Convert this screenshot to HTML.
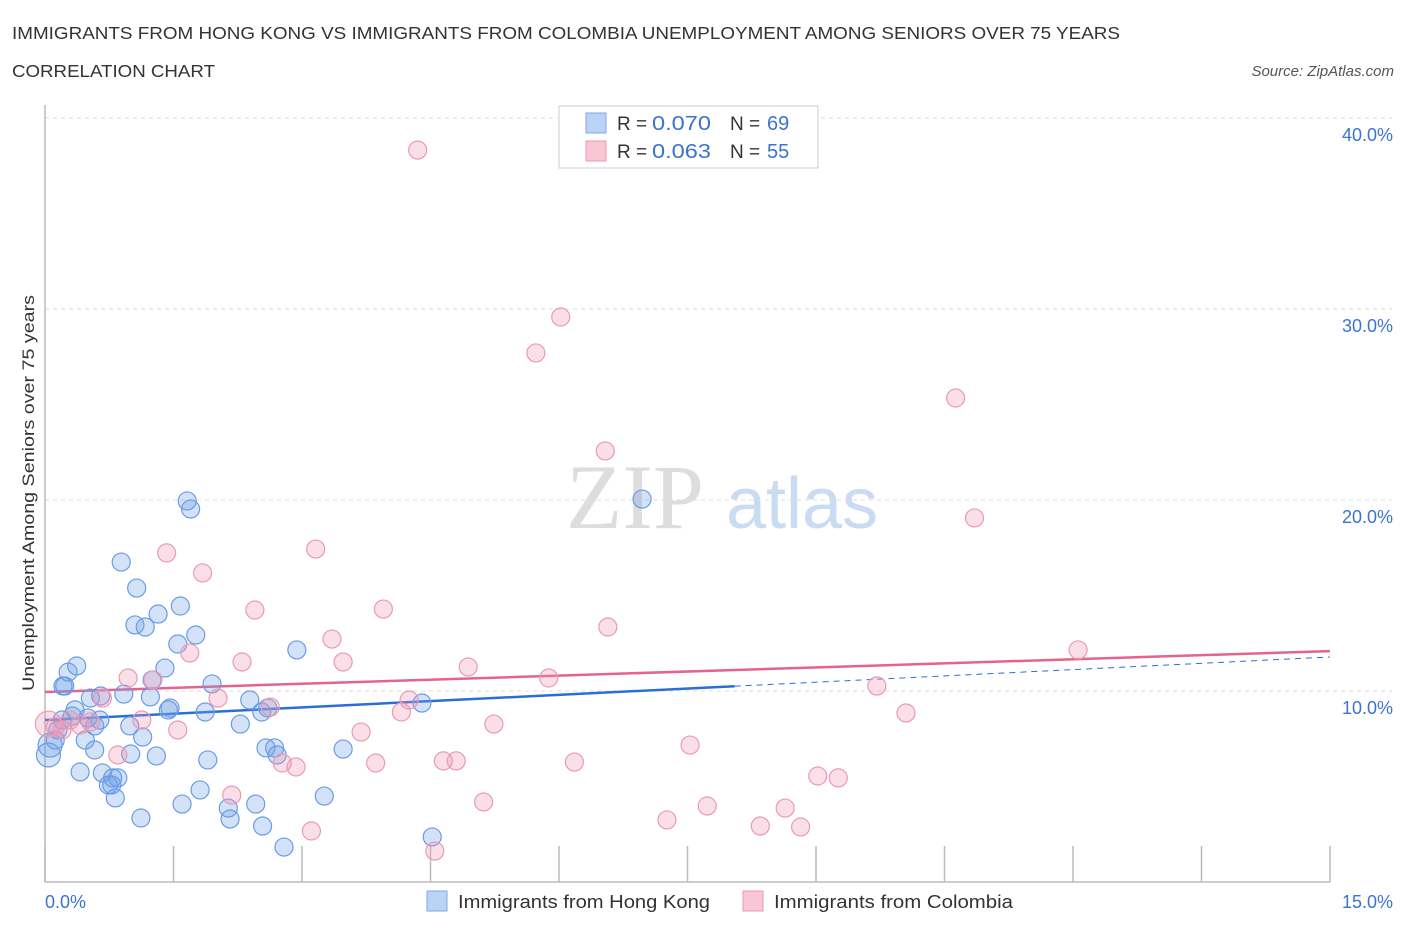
<!DOCTYPE html>
<html><head><meta charset="utf-8">
<style>
body{margin:0;background:#fff;font-family:"Liberation Sans",sans-serif;}
#wrap{position:relative;width:1406px;height:930px;overflow:hidden;}
</style></head>
<body>
<div id="wrap">
<svg id="chart" width="1406" height="930" xmlns="http://www.w3.org/2000/svg">
<text x="12" y="39" font-size="17.5" fill="#333" textLength="1108" lengthAdjust="spacingAndGlyphs">IMMIGRANTS FROM HONG KONG VS IMMIGRANTS FROM COLOMBIA UNEMPLOYMENT AMONG SENIORS OVER 75 YEARS</text>
<text x="12" y="77" font-size="17.5" fill="#333" textLength="203" lengthAdjust="spacingAndGlyphs">CORRELATION CHART</text>
<text x="1394" y="76" font-size="15" fill="#555" font-style="italic" text-anchor="end">Source: ZipAtlas.com</text>
<g>
<text x="635" y="528" font-size="92" fill="#ddd" font-family="Liberation Serif,serif" text-anchor="middle">ZIP</text>
<text x="802" y="528" font-size="72" fill="#c9dcf2" text-anchor="middle">atlas</text>
</g>
<g id="grid"></g>
<g id="axes"></g>
<g id="lines"></g>
<g id="points"></g>
<text transform="translate(34,493) rotate(-90)" font-size="17" fill="#333" text-anchor="middle" textLength="396" lengthAdjust="spacingAndGlyphs">Unemployment Among Seniors over 75 years</text>
<g>
<rect x="559" y="106" width="259" height="62" fill="#fff" stroke="#ccc"/>
<rect x="586" y="113" width="20" height="20" fill="#b9d3f5" stroke="#7fa9e6"/>
<rect x="586" y="141" width="20" height="20" fill="#f8c6d4" stroke="#eb9ab2"/>
<text x="617" y="130" font-size="19" fill="#333">R =</text>
<text x="652" y="130" font-size="20" fill="#3a74d0" textLength="59" lengthAdjust="spacingAndGlyphs">0.070</text>
<text x="730" y="130" font-size="19" fill="#333">N =</text>
<text x="767" y="130" font-size="20" fill="#3a74d0">69</text>
<text x="617" y="158" font-size="19" fill="#333">R =</text>
<text x="652" y="158" font-size="20" fill="#3a74d0" textLength="59" lengthAdjust="spacingAndGlyphs">0.063</text>
<text x="730" y="158" font-size="19" fill="#333">N =</text>
<text x="767" y="158" font-size="20" fill="#3a74d0">55</text>
</g>
<g>
<rect x="427" y="891" width="20" height="20" fill="#b9d3f5" stroke="#7fa9e6"/>
<text x="458" y="908" font-size="18" fill="#333" textLength="252" lengthAdjust="spacingAndGlyphs">Immigrants from Hong Kong</text>
<rect x="743" y="891" width="20" height="20" fill="#f8c6d4" stroke="#eb9ab2"/>
<text x="774" y="908" font-size="18" fill="#333" textLength="239" lengthAdjust="spacingAndGlyphs">Immigrants from Colombia</text>
</g>
</svg>
</div>
<script>
const xTickValues=[0,1.5,3,4.5,6,7.5,9,10.5,12,13.5,15];
const yTickValues=[10,20,30,40];
const yTickLabels=["10.0%","20.0%","30.0%","40.0%"];
const xEndLabels=["0.0%","15.0%"];
const hkX=[0.04,0.06,0.12,0.15,0.20,0.27,0.37,0.21,0.23,0.35,0.32,0.50,0.58,0.47,0.53,0.41,0.58,0.67,0.74,0.78,0.82,0.85,0.89,1.07,1.05,1.17,1.32,1.40,1.25,1.23,0.92,0.99,1.00,1.14,1.30,1.12,0.65,1.44,1.46,1.55,1.58,1.66,1.70,1.76,1.95,1.87,1.90,1.81,1.60,2.28,2.14,2.16,2.39,2.46,2.53,2.60,2.54,2.58,2.68,2.71,2.79,2.94,3.26,3.48,4.40,4.52,6.97,0.64,0.79];
const hkY=[6.65,7.17,7.43,7.96,8.48,10.99,11.31,10.26,10.26,9.01,8.69,8.59,8.17,7.43,9.63,5.76,6.91,5.71,5.08,5.08,4.40,5.45,16.75,15.39,13.46,13.35,14.03,11.20,10.58,9.69,9.84,8.17,6.70,7.59,6.60,3.35,9.74,9.01,9.11,12.46,14.45,19.95,19.53,12.93,10.37,8.90,6.39,4.82,4.08,8.27,3.87,3.30,9.53,4.08,8.90,9.11,2.93,7.02,7.02,6.65,1.83,12.15,4.50,6.96,9.37,2.36,20.05,8.48,5.45];
const coX=[0.04,0.12,0.20,0.29,0.41,0.53,0.67,0.97,0.85,1.13,1.26,1.42,1.55,1.69,1.84,2.02,2.18,2.30,2.45,2.63,2.77,2.93,3.11,3.16,3.35,3.48,3.69,3.86,3.95,4.16,4.25,4.35,4.55,4.65,4.80,4.94,5.12,5.24,5.73,5.88,6.02,6.18,6.54,6.57,7.26,7.53,7.73,8.35,8.64,8.82,9.02,9.26,9.71,10.05,10.63,10.85,12.06];
const coY=[8.27,8.12,7.96,8.48,8.22,8.38,9.63,10.68,6.65,8.48,10.58,17.23,7.96,11.99,16.18,9.63,4.55,11.52,14.24,9.16,6.23,6.02,2.67,17.43,12.72,11.52,7.85,6.23,14.29,8.90,9.53,38.32,1.62,6.34,6.34,11.26,4.19,8.27,27.70,10.68,29.58,6.28,22.57,13.35,3.25,7.17,3.98,2.93,3.87,2.88,5.55,5.45,10.26,8.85,25.34,19.06,12.15];
const hkLine=[8.48,11.78]; const hkSolidEnd=8.05;
const coLine=[9.95,12.09];

const NS="http://www.w3.org/2000/svg";
const X0=45,X1=1330,Y0=882,Y40=118;
function sx(v){return X0+(v/15)*(X1-X0);}
function sy(v){return Y0-(v/40)*(Y0-Y40);}
function mk(tag,attrs,parent){const e=document.createElementNS(NS,tag);for(const k in attrs)e.setAttribute(k,attrs[k]);parent.appendChild(e);return e;}
const grid=document.getElementById('grid'),axes=document.getElementById('axes'),lines=document.getElementById('lines'),pts=document.getElementById('points');
yTickValues.forEach((v,i)=>{
 const g=mk('line',{x1:X0,x2:1392,y1:sy(v),y2:sy(v),stroke:'#ddd','stroke-dasharray':'4,4'},grid);
 
 
 const t=mk('text',{x:1393,y:sy(v)+23,'font-size':18,fill:'#3a74d0','text-anchor':'end'},axes);
 t.textContent=yTickLabels[i];
 
 
});
const ya=mk('line',{x1:X0,x2:X0,y1:105,y2:Y0,stroke:'#bbb','stroke-width':1.5},axes);


const xa=mk('line',{x1:X0,x2:X1,y1:Y0,y2:Y0,stroke:'#bbb','stroke-width':1.5},axes);


xTickValues.forEach(v=>{
 const t=mk('line',{x1:sx(v),x2:sx(v),y1:846,y2:Y0,stroke:'#bbb','stroke-width':1.5},axes);
 
 
});
const xl0=mk('text',{x:45,y:908,'font-size':18,fill:'#3a74d0'},axes);xl0.textContent=xEndLabels[0];


const xl1=mk('text',{x:1393,y:908,'font-size':18,fill:'#3a74d0','text-anchor':'end'},axes);xl1.textContent=xEndLabels[1];


function ly(l,x){return l[0]+(l[1]-l[0])*x/15;}
hkX.forEach((x,i)=>{
 const c=mk('circle',{cx:sx(x),cy:sy(hkY[i]),r:i<2?12:9,fill:'rgba(110,160,230,0.3)',stroke:'#6a9ce6','stroke-width':1.2},pts);
 
 
});
coX.forEach((x,i)=>{
 const c=mk('circle',{cx:sx(x),cy:sy(coY[i]),r:i<1?13:9,fill:'rgba(240,150,180,0.3)',stroke:'#eb9ab2','stroke-width':1.2},pts);
 
 
});
const l1=mk('line',{x1:sx(0),y1:sy(ly(hkLine,0)),x2:sx(hkSolidEnd),y2:sy(ly(hkLine,hkSolidEnd)),stroke:'#2a6fd6','stroke-width':2.5},lines);


const l2=mk('line',{x1:sx(hkSolidEnd),y1:sy(ly(hkLine,hkSolidEnd)),x2:sx(15),y2:sy(ly(hkLine,15)),stroke:'#2a6fd6','stroke-width':1,'stroke-dasharray':'6,5'},lines);


const l3=mk('line',{x1:sx(0),y1:sy(ly(coLine,0)),x2:sx(15),y2:sy(ly(coLine,15)),stroke:'#e5638f','stroke-width':2.5},lines);


</script>
</body></html>
